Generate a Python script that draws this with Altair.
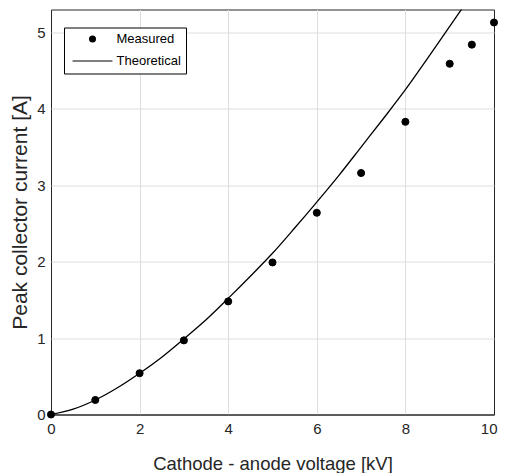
import altair as alt
import pandas as pd

# Measured data
voltage_measured = [0, 1, 2, 3, 4, 5, 6, 7, 8, 9, 9.5, 10]
current_measured = [0.0, 0.19, 0.54, 0.97, 1.48, 1.99, 2.64, 3.16, 3.83, 4.59, 4.84, 5.13]

# Theoretical curve
voltage_theory = [0, 0.5, 1, 1.5, 2, 2.5, 3, 3.5, 4, 4.5, 5, 5.5, 6, 6.5, 7, 7.5, 8, 8.5, 9, 9.5]
current_theory = [0.0, 0.07, 0.19, 0.35, 0.54, 0.75, 0.99, 1.24, 1.52, 1.81, 2.11, 2.44,
                  2.78, 3.13, 3.50, 3.87, 4.25, 4.66, 5.08, 5.50]

series_names = ["Measured", "Theoretical"]
x_ticks = [0, 2, 4, 6, 8, 10]
y_ticks = [0, 1, 2, 3, 4, 5]

meas = pd.DataFrame({"V": voltage_measured, "I": current_measured, "series": series_names[0]})
theo = pd.DataFrame({"V": voltage_theory, "I": current_theory, "series": series_names[1]})

FONT = "Liberation Sans"
TXT = "#262626"
GRID = "#dedede"

x = alt.X("V:Q", scale=alt.Scale(domain=[0, 10], nice=False),
          axis=alt.Axis(title="Cathode - anode voltage [kV]", values=x_ticks, format="d",
                        labelFontSize=15, titleFontSize=18.5, labelPadding=7, titlePadding=18,
                        labelColor=TXT, titleColor=TXT, labelFont=FONT, titleFont=FONT,
                        titleFontWeight="normal", ticks=False, domain=False, labelFlush=False,
                        labelAlign={"condition": {"test": "datum.value === 10", "value": "right"},
                                    "value": "center"},
                        labelOffset={"condition": {"test": "datum.value === 10", "value": 3},
                                     "value": 0},
                        gridColor={"condition": {"test": "datum.value === 0 || datum.value === 10",
                                                 "value": TXT}, "value": GRID},
                        gridWidth=1))
y = alt.Y("I:Q", scale=alt.Scale(domain=[0, 5.3], nice=False),
          axis=alt.Axis(title="Peak collector current [A]", values=y_ticks, format="d",
                        labelFontSize=15, titleFontSize=21, labelPadding=6, titlePadding=6,
                        labelColor=TXT, titleColor=TXT, labelFont=FONT, titleFont=FONT,
                        titleFontWeight="normal", ticks=False, domain=False, labelFlush=False,
                        gridColor={"condition": {"test": "datum.value === 0",
                                                 "value": TXT}, "value": GRID},
                        gridWidth=1))

line = alt.Chart(theo).mark_line(color="black", strokeWidth=1.3, clip=True,
                                 interpolate="monotone").encode(x=x, y=y)

pts = alt.Chart(meas).mark_point(filled=True, fill="black", stroke="black", strokeWidth=1,
                                 size=50, opacity=1).encode(
    x=x, y=y,
    shape=alt.Shape("series:N",
                    scale=alt.Scale(domain=series_names,
                                    range=["circle", "M-5.7,-0.17L5.7,-0.17L5.7,0.17L-5.7,0.17Z"]),
                    legend=alt.Legend(title=None, orient="none", legendX=13, legendY=18,
                                      strokeColor="black", fillColor="white", padding=5,
                                      symbolOffset=17, labelOffset=17.5, labelFontSize=13,
                                      labelFont=FONT, labelColor="black", symbolSize=49,
                                      symbolStrokeColor="black", symbolFillColor="black",
                                      symbolStrokeWidth=0.5, rowPadding=8, cornerRadius=0))
)

chart = alt.layer(line, pts).properties(
    width=443, height=405,
    autosize=alt.AutoSizeParams(type="none"),
    padding={"left": 43, "top": 1.5, "right": 4, "bottom": 58},
).configure_view(stroke=TXT, strokeWidth=1)

chart.save("out.html", embed_options={"renderer": "svg", "actions": False})
